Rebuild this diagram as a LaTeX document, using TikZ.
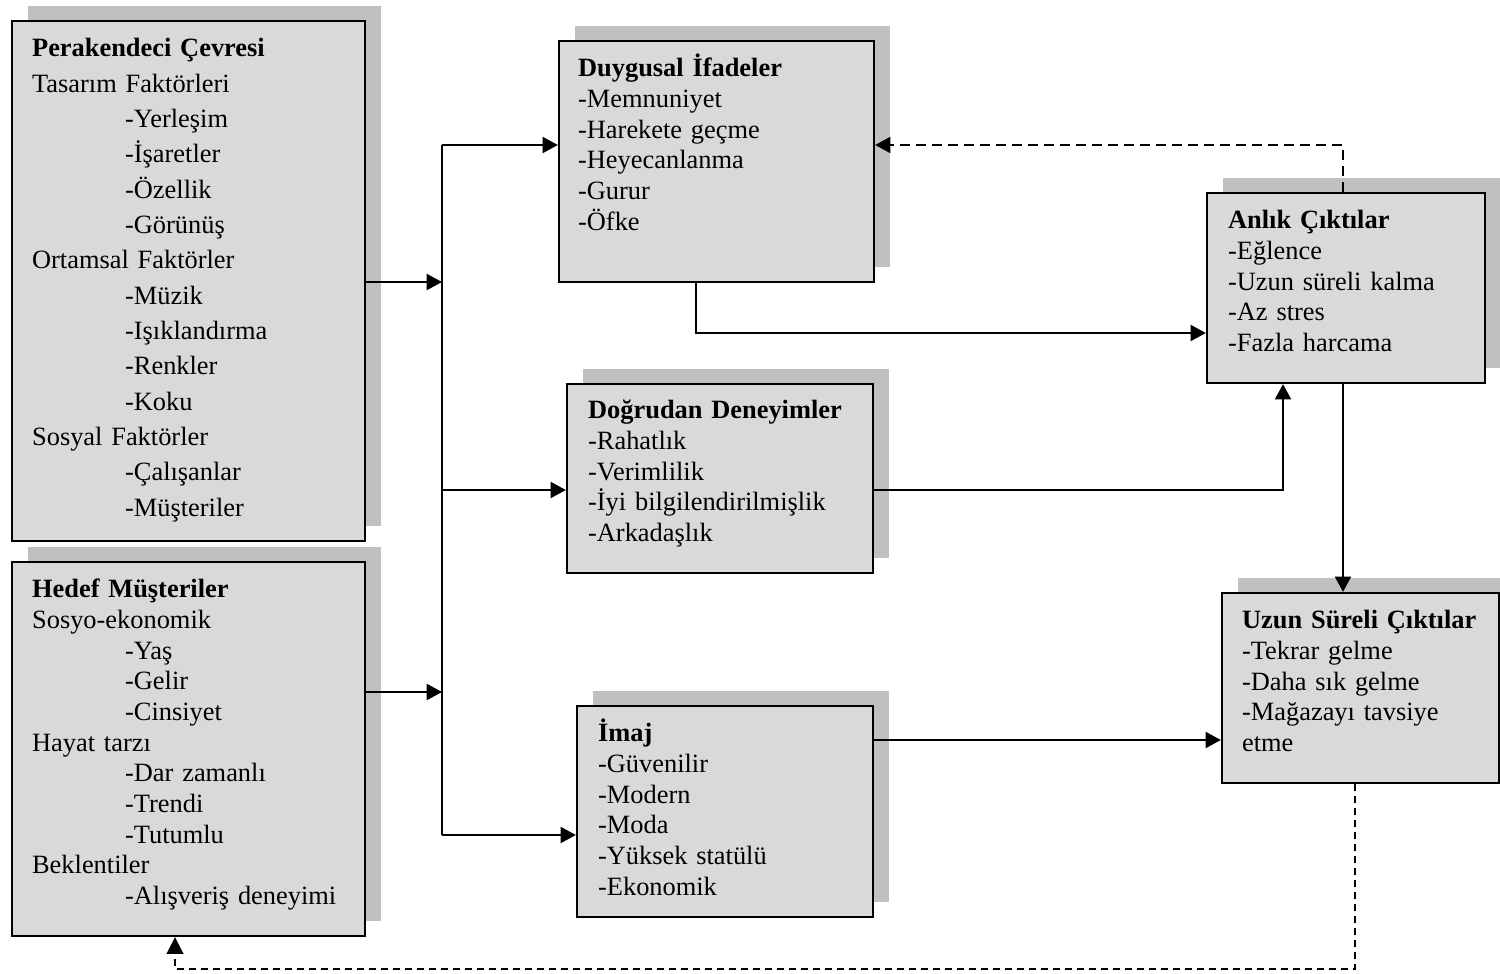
\documentclass[tikz,border=0pt]{standalone}
\usepackage{fontspec}
\setmainfont{Liberation Serif}
\usetikzlibrary{arrows.meta,shadows}
\definecolor{boxfill}{RGB}{217,217,217}
\definecolor{shadowgray}{RGB}{192,192,192}
% indentation of the sub-items inside the two left boxes
\newcommand\subitemind{\hspace*{69.75pt}}

\begin{document}
\begin{tikzpicture}[x=0.75pt,y=-0.75pt,
  box/.style 2 args={draw, line width=1.7pt, fill=boxfill,
    minimum width=#1*0.75pt, minimum height=#2*0.75pt, inner sep=0pt,
    drop shadow={shadow xshift=12pt, shadow yshift=11.5pt, fill=shadowgray, opacity=1}},
  txt/.style={anchor=base west, inner sep=0pt, text width=360pt, align=left,
    font=\fontsize{19.8pt}{23pt}\selectfont},
  widelines/.style={font=\fontsize{19.8pt}{26.5pt}\selectfont},
  link/.style={line width=1.7pt},
  arr/.style={line width=1.7pt, -{Triangle[length=11.5pt,width=12pt]}},
  fb/.style={arr, dash pattern=on 7.5pt off 4.5pt},
  fbthin/.style={line width=1.2pt, dash pattern=on 5.25pt off 3.75pt,
    -{Triangle[length=12.5pt,width=12.5pt]}},
]
\useasboundingbox (0,0) rectangle (1500,974);

% ---- boxes ----
\node[box={353}{520}] (pc) at (188.5,281) {};
\node[box={353}{374}] (hm) at (188.5,749) {};
\node[box={315}{241}] (du) at (716.5,161.5) {};
\node[box={306}{189}] (dd) at (720,478.5) {};
\node[box={296}{211}] (im) at (725,811.5) {};
\node[box={278}{190}] (an) at (1346,288) {};
\node[box={277}{190}] (uz) at (1360.5,688) {};

% ---- box contents ----
\node[txt, widelines] (pc-t) at ([shift={(21,37)}]pc.north west) {%
  \textbf{Perakendeci Çevresi}\\
  Tasarım Faktörleri\\
  \subitemind-Yerleşim\\
  \subitemind-İşaretler\\
  \subitemind-Özellik\\
  \subitemind-Görünüş\\
  Ortamsal Faktörler\\
  \subitemind-Müzik\\
  \subitemind-Işıklandırma\\
  \subitemind-Renkler\\
  \subitemind-Koku\\
  Sosyal Faktörler\\
  \subitemind-Çalışanlar\\
  \subitemind-Müşteriler};

\node[txt] (hm-t) at ([shift={(21,37)}]hm.north west) {%
  \textbf{Hedef Müşteriler}\\
  Sosyo-ekonomik\\
  \subitemind-Yaş\\
  \subitemind-Gelir\\
  \subitemind-Cinsiyet\\
  Hayat tarzı\\
  \subitemind-Dar zamanlı\\
  \subitemind-Trendi\\
  \subitemind-Tutumlu\\
  Beklentiler\\
  \subitemind-Alışveriş deneyimi};

\node[txt] (du-t) at ([shift={(20,37)}]du.north west) {%
  \textbf{Duygusal İfadeler}\\
  -Memnuniyet\\
  -Harekete geçme\\
  -Heyecanlanma\\
  -Gurur\\
  -Öfke};

\node[txt] (dd-t) at ([shift={(22,36)}]dd.north west) {%
  \textbf{Doğrudan Deneyimler}\\
  -Rahatlık\\
  -Verimlilik\\
  -İyi bilgilendirilmişlik\\
  -Arkadaşlık};

\node[txt] (im-t) at ([shift={(22,37)}]im.north west) {%
  \textbf{İmaj}\\
  -Güvenilir\\
  -Modern\\
  -Moda\\
  -Yüksek statülü\\
  -Ekonomik};

\node[txt] (an-t) at ([shift={(22,37)}]an.north west) {%
  \textbf{Anlık Çıktılar}\\
  -Eğlence\\
  -Uzun süreli kalma\\
  -Az stres\\
  -Fazla harcama};

\node[txt] (uz-t) at ([shift={(21,37)}]uz.north west) {%
  \textbf{Uzun Süreli Çıktılar}\\
  -Tekrar gelme\\
  -Daha sık gelme\\
  -Mağazayı tavsiye\\
  etme};

% ---- routing points ----
\coordinate (bt) at (442,145);
\coordinate (bm) at (442,490);
\coordinate (bb) at (442,835);
\coordinate (hmj) at (442,692);
\coordinate (dua) at (696,333);
\coordinate (dda) at (1283,490);
\coordinate (anx) at (1343,145);
\coordinate (imu) at (1050,740);
\coordinate (lp1) at (1355,969);
\coordinate (lp2) at (175,969);

% ---- connectors ----
\draw[link] (bt) -- (bb);
\draw[arr] (pc.east |- 0,282) -- (bt |- 0,282);
\draw[arr] (hm.east |- hmj) -- (hmj);
\draw[arr] (bt) -- (bt -| du.west);
\draw[arr] (bm) -- (bm -| dd.west);
\draw[arr] (bb) -- (bb -| im.west);
\draw[arr] (dua |- du.south) -- (dua) -- (dua -| an.west);
\draw[arr] (dd.east |- dda) -- (dda) -- (dda |- an.south);
\draw[arr] (an.south -| anx) -- (uz.north -| anx);
\draw[arr] (im.east |- imu) -- (uz.west |- imu);

% ---- feedback loops ----
\draw[fb] (an.north -| anx) -- (anx) -- (anx -| du.east);
\draw[fbthin] (uz.south -| lp1) -- (lp1) -- (lp2) -- (hm.south -| lp2);
\end{tikzpicture}
\end{document}
